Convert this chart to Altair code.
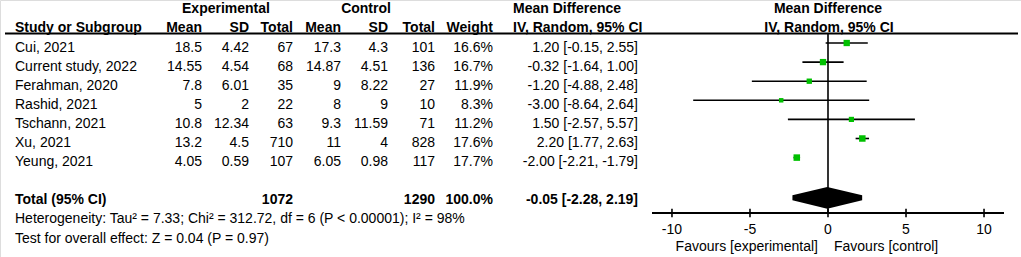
import altair as alt
import pandas as pd

# ---------------- data ----------------
studies = ["Cui, 2021", "Current study, 2022", "Ferahman, 2020", "Rashid, 2021",
           "Tschann, 2021", "Xu, 2021", "Yeung, 2021"]
exp_mean = [18.5, 14.55, 7.8, 5, 10.8, 13.2, 4.05]
exp_sd = [4.42, 4.54, 6.01, 2, 12.34, 4.5, 0.59]
exp_n = [67, 68, 35, 22, 63, 710, 107]
ctl_mean = [17.3, 14.87, 9, 8, 9.3, 11, 6.05]
ctl_sd = [4.3, 4.51, 8.22, 9, 11.59, 4, 0.98]
ctl_n = [101, 136, 27, 10, 71, 828, 117]
weight = [16.6, 16.7, 11.9, 8.3, 11.2, 17.6, 17.7]
md = [1.20, -0.32, -1.20, -3.00, 1.50, 2.20, -2.00]
ci_lo = [-0.15, -1.64, -4.88, -8.64, -2.57, 1.77, -2.21]
ci_hi = [2.55, 1.00, 2.48, 2.64, 5.57, 2.63, -1.79]

total_label = "Total (95% CI)"
total_exp_n = 1072
total_ctl_n = 1290
total_weight = 100.0
total_md, total_lo, total_hi = -0.05, -2.28, 2.19

heterogeneity = "Heterogeneity: Tau\u00b2 = 7.33; Chi\u00b2 = 312.72, df = 6 (P < 0.00001); I\u00b2 = 98%"
overall = "Test for overall effect: Z = 0.04 (P = 0.97)"
axis_ticks = [-10, -5, 0, 5, 10]
favours_left = "Favours [experimental]"
favours_right = "Favours [control]"

# ---------------- layout ----------------
FONT = "Liberation Sans"
FS = 14
W, H = 1021, 257
ROW0, ROWH = 28.4, 19.1
GREEN = "#00c000"

yscale = alt.Scale(domain=[-ROW0 / ROWH, (H - ROW0) / ROWH], range=[0, H], nice=False, zero=False)
xscale = alt.Scale(domain=[-11.28, 11.28], range=[652, 1004], nice=False, zero=False)


def g(v):
    return f"{v:g}"


rows = list(range(1, len(studies) + 1))
df = pd.DataFrame({
    "row": rows,
    "study": studies,
    "em": [g(v) for v in exp_mean],
    "es": [g(v) for v in exp_sd],
    "en": [str(v) for v in exp_n],
    "cm": [g(v) for v in ctl_mean],
    "cs": [g(v) for v in ctl_sd],
    "cn": [str(v) for v in ctl_n],
    "w": [f"{v:.1f}%" for v in weight],
    "ci": [f"{m:.2f} [{a:.2f}, {b:.2f}]" for m, a, b in zip(md, ci_lo, ci_hi)],
    "md": md,
    "lo": ci_lo,
    "hi": ci_hi,
    "weight": weight,
})

TOTAL_ROW = 9
AXIS_ROW = (213 - ROW0) / ROWH
LINE_ROW = (33.5 - ROW0) / ROWH


def Y(field="row"):
    return alt.Y(field, type="quantitative", scale=yscale, axis=None)


def X(field):
    return alt.X(field, type="quantitative", scale=xscale, axis=None)


def col(data, field, x, align, bold=False, size=FS):
    return alt.Chart(data).mark_text(
        align=align, baseline="middle", font=FONT, fontSize=size,
        fontWeight="bold" if bold else "normal", color="black"
    ).encode(x=alt.value(x), y=Y("row"), text=alt.Text(field, type="nominal"))


def label(t, x, row, align="left", bold=False):
    d = pd.DataFrame({"t": [t], "row": [row]})
    return col(d, "t", x, align, bold)


layers = []

# table columns
colspec = [("study", 15, "left"), ("em", 202, "right"), ("es", 249, "right"),
           ("en", 293, "right"), ("cm", 341, "right"), ("cs", 388, "right"),
           ("cn", 435, "right"), ("w", 493, "right"), ("ci", 638, "right")]
for f, x, a in colspec:
    layers.append(col(df, f, x, a))

# headers
layers += [
    label("Experimental", 226, -1, "center", True),
    label("Control", 366, -1, "center", True),
    label("Mean Difference", 513, -1, "left", True),
    label("Mean Difference", 828, -1, "center", True),
    label("Study or Subgroup", 15, 0, "left", True),
    label("Mean", 202, 0, "right", True),
    label("SD", 249, 0, "right", True),
    label("Total", 293, 0, "right", True),
    label("Mean", 341, 0, "right", True),
    label("SD", 388, 0, "right", True),
    label("Total", 435, 0, "right", True),
    label("Weight", 493, 0, "right", True),
    label("IV, Random, 95% CI", 513, 0, "left", True),
    label("IV, Random, 95% CI", 829, 0, "center", True),
]

# total row + footers
layers += [
    label(total_label, 15, TOTAL_ROW, "left", True),
    label(str(total_exp_n), 293, TOTAL_ROW, "right", True),
    label(str(total_ctl_n), 435, TOTAL_ROW, "right", True),
    label(f"{total_weight:.1f}%", 493, TOTAL_ROW, "right", True),
    label(f"{total_md:.2f} [{total_lo:.2f}, {total_hi:.2f}]", 638, TOTAL_ROW, "right", True),
    label(heterogeneity, 15, TOTAL_ROW + 1, "left"),
    label(overall, 15, TOTAL_ROW + 2, "left"),
]

# header rule
hdr = pd.DataFrame({"row": [LINE_ROW]})
layers.append(alt.Chart(hdr).mark_rule(color="black", strokeWidth=2).encode(
    x=alt.value(5), x2=alt.value(1018), y=Y("row")))

# zero line
zl = pd.DataFrame({"x": [0], "r1": [LINE_ROW], "r2": [AXIS_ROW]})
layers.append(alt.Chart(zl).mark_rule(color="black", strokeWidth=1.6).encode(
    x=X("x"), y=Y("r1"), y2="r2:Q"))

# CI lines
layers.append(alt.Chart(df).mark_rule(color="black", strokeWidth=1.6, yOffset=-4.5).encode(
    x=X("lo"), x2="hi:Q", y=Y("row")))

# squares
layers.append(alt.Chart(df).mark_square(color=GREEN, opacity=1, filled=True, yOffset=-4.5).encode(
    x=X("md"), y=Y("row"),
    size=alt.Size("weight:Q", scale=alt.Scale(domain=[0, 20], range=[0, 48]), legend=None)))

# diamond
HALF = 0.44
dd = pd.DataFrame({
    "x": [total_lo, total_md, total_hi],
    "y1": [TOTAL_ROW, TOTAL_ROW - HALF, TOTAL_ROW],
    "y2": [TOTAL_ROW, TOTAL_ROW + HALF, TOTAL_ROW],
})
layers.append(alt.Chart(dd).mark_area(orient="vertical", color="black", opacity=1, yOffset=-5).encode(
    x=X("x"), y=Y("y1"), y2="y2:Q"))

# axis line
ax = pd.DataFrame({"x1": [xscale.domain[0]], "x2": [xscale.domain[1]], "row": [AXIS_ROW]})
layers.append(alt.Chart(ax).mark_rule(color="black", strokeWidth=2).encode(
    x=X("x1"), x2="x2:Q", y=Y("row")))

# ticks
TK = 4.2 / ROWH
tk = pd.DataFrame({"t": axis_ticks, "r1": [AXIS_ROW - TK] * len(axis_ticks),
                   "r2": [AXIS_ROW + TK] * len(axis_ticks),
                   "lab": [str(v) for v in axis_ticks],
                   "row": [(229.5 - ROW0) / ROWH] * len(axis_ticks)})
layers.append(alt.Chart(tk).mark_rule(color="black", strokeWidth=1.6).encode(
    x=X("t"), y=Y("r1"), y2="r2:Q"))
layers.append(alt.Chart(tk).mark_text(font=FONT, fontSize=FS, align="center", baseline="middle",
                                      color="black").encode(
    x=X("t"), y=Y("row"), text="lab:N"))

# favours
FROW = (247 - ROW0) / ROWH
layers.append(label(favours_left, 818, FROW, "right"))
layers.append(label(favours_right, 834, FROW, "left"))

chart = alt.layer(*layers).properties(
    width=W, height=H, autosize=alt.AutoSizeParams(type="none"), padding=0
).configure_view(stroke=None).configure(background="white")

chart.save("out.html", embed_options={"renderer": "svg", "actions": False})
